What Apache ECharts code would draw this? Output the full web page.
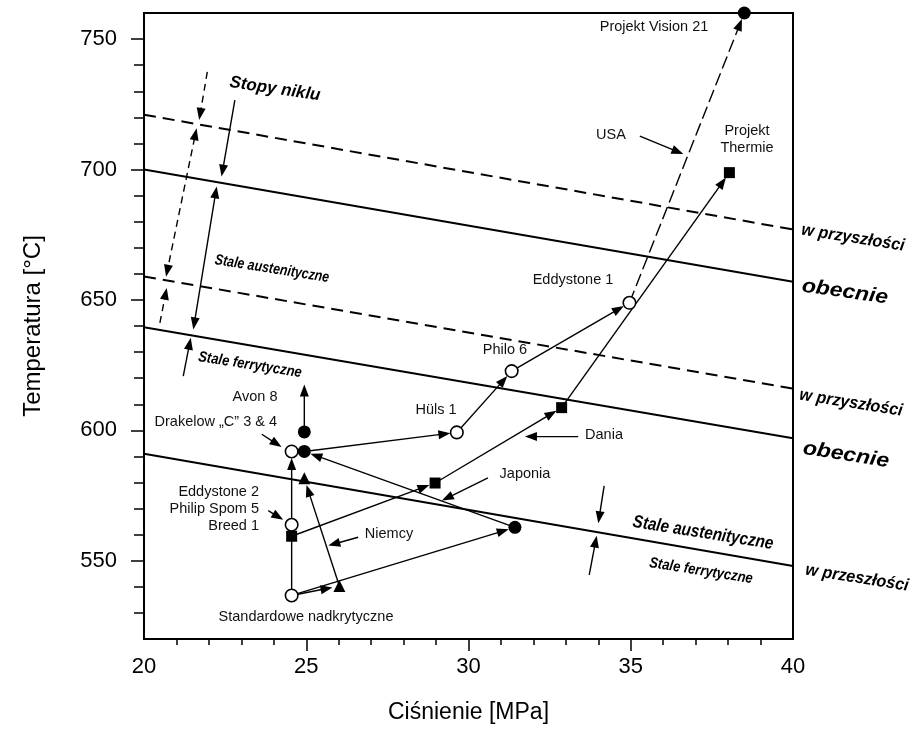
<!DOCTYPE html>
<html><head><meta charset="utf-8">
<script src="https://cdn.jsdelivr.net/npm/echarts@6/dist/echarts.min.js"></script>
<style>html,body{margin:0;padding:0;background:#fff}#c{width:915px;height:729px}</style>
</head><body><div id="c"></div><script>
// ---- axis ticks / labels ----
const xLabelValues = [20, 25, 30, 35, 40];
const xMajorTicks = [25, 30, 35];
const xMinorTicks = [21,22,23,24,26,27,28,29,31,32,33,34,36,37,38,39];
const yLabelValues = [550, 600, 650, 700, 750];
const yMinorTicks = [530,540,560,570,580,590,610,620,630,640,660,670,680,690,710,720,730,740];

// ---- boundary lines (pressure MPa, temperature °C) ----
const nickelFuture = [[20, 721], [40, 677]];
const nickelNow    = [[20, 700], [40, 657]];
const austFuture   = [[20, 659], [40, 616]];
const austNow      = [[20, 639.5], [40, 597]];
const ferrPast     = [[20, 591], [40, 548]];

// ---- plant points ----
const openCircles   = [[24.55, 536.7], [24.55, 563.8], [24.55, 591.9], [29.64, 599.2], [31.33, 622.7], [34.96, 648.9]];
const filledCircles = [[24.94, 599.4], [24.94, 591.9], [31.43, 562.8], [38.5, 760]];
const filledSquares = [[24.55, 559.4], [28.97, 579.8], [32.87, 608.7], [38.04, 698.8]];
const filledTriangles = [[24.94, 581.6], [26.02, 540.3]];

// ---- development paths [x1, y1, x2, y2] ----
const pathArrows = [
  [24.55, 536.7, 24.55, 591.9],
  [24.55, 536.7, 26.02, 540.3],
  [24.55, 536.7, 31.43, 562.8],
  [26.02, 540.3, 24.94, 581.6],
  [31.43, 562.8, 24.94, 591.9],
  [24.94, 591.9, 29.64, 599.2],
  [29.64, 599.2, 31.33, 622.7],
  [31.33, 622.7, 34.96, 648.9],
  [24.55, 559.4, 28.97, 579.8],
  [28.97, 579.8, 32.87, 608.7],
  [32.87, 608.7, 38.04, 698.8],
  [24.94, 599.4, 24.94, 617.6]
];
const dashedPathArrows = [[34.96, 648.9, 38.5, 760]];

// ---- pointer arrows ----
const pointerArrows = [
  [23.63, 598.5, 24.24, 593.6],
  [23.83, 569.2, 24.29, 565.7],
  [26.60, 559.0, 25.68, 555.8],
  [30.60, 581.8, 29.18, 573.1],
  [33.38, 597.6, 31.74, 597.6],
  [35.28, 712.8, 36.62, 705.9],
  [34.18, 578.7, 34.00, 564.4],
  [33.72, 544.6, 33.95, 559.6],
  [22.80, 726.6, 22.39, 697.3],
  [21.21, 620.8, 21.44, 635.5]
];
const doubleArrows = [[22.24, 693.5, 21.52, 638.7]];
const dashedPointerArrows = [[21.95, 737.4, 21.70, 719.0], [20.49, 641.2, 20.70, 654.6]];
const dashedDoubleArrows = [[21.62, 715.8, 20.68, 658.9]];

// ---- annotation texts ----
const plainTexts = [
  ['Projekt Vision 21', 654, 27, 'center'],
  ['USA', 611, 135, 'center'],
  ['Projekt', 747, 131, 'center'],
  ['Thermie', 747, 148, 'center'],
  ['Eddystone 1', 573, 280, 'center'],
  ['Philo 6', 505, 350, 'center'],
  ['Hüls 1', 436, 410, 'center'],
  ['Dania', 604, 435, 'center'],
  ['Japonia', 525, 474, 'center'],
  ['Avon 8', 255, 397, 'center'],
  ['Drakelow \u201EC\u201D 3 & 4', 277, 422, 'right'],
  ['Eddystone 2', 259, 492, 'right'],
  ['Philip Spom 5', 259, 509, 'right'],
  ['Breed 1', 259, 526, 'right'],
  ['Niemcy', 389, 534, 'center'],
  ['Standardowe nadkrytyczne', 306, 617, 'center']
];
const boldTexts = [
  ['Stopy niklu', 275, 89, 17, -8.5, 1.0],
  ['Stale austenityczne', 272, 269, 15, -9, 0.83],
  ['Stale ferrytyczne', 250, 365, 15, -9, 0.87],
  ['w przyszłości', 853, 238, 17, -9, 0.95],
  ['obecnie', 845, 292, 20, -8, 1.15],
  ['w przyszłości', 851, 403, 17, -9, 0.95],
  ['obecnie', 846, 455, 20, -9, 1.15],
  ['Stale austenityczne', 703, 533, 18, -9, 0.85],
  ['Stale ferrytyczne', 701, 571, 15, -9, 0.87],
  ['w przeszłości', 857, 578, 17, -9, 0.95]
];

const FONT = 'Liberation Sans, Arial, sans-serif';
const HEAD_L = 12, HEAD_W = 4.5;

function markerGap(x, y) {
  const near = (arr) => arr.some(p => Math.abs(p[0] - x) < 1e-6 && Math.abs(p[1] - y) < 1e-6);
  if (near(openCircles) || near(filledCircles)) return 6.5;
  if (near(filledSquares)) return 6;
  if (near(filledTriangles)) return 7;
  return 0;
}

function headShape(tip, ux, uy) {
  const bx = tip[0] - ux * HEAD_L, by = tip[1] - uy * HEAD_L;
  const px = -uy, py = ux;
  return { type: 'polygon', shape: { points: [tip, [bx + px * HEAD_W, by + py * HEAD_W], [bx - px * HEAD_W, by - py * HEAD_W]] },
           style: { fill: '#000' } };
}

function arrowSeries(data, dash, both) {
  return {
    type: 'custom', coordinateSystem: 'cartesian2d', clip: false, silent: true, z: 3,
    encode: { x: [0, 2], y: [1, 3] },
    data: data,
    renderItem: function (params, api) {
      const v = [api.value(0), api.value(1), api.value(2), api.value(3)];
      const a = api.coord([v[0], v[1]]);
      const b = api.coord([v[2], v[3]]);
      const dx = b[0] - a[0], dy = b[1] - a[1];
      const len = Math.hypot(dx, dy) || 1;
      const ux = dx / len, uy = dy / len;
      const ge = markerGap(v[2], v[3]);
      const e = [b[0] - ux * ge, b[1] - uy * ge];
      const s = [a[0], a[1]];
      const children = [];
      children.push(headShape(e, ux, uy));
      let le = [e[0] - ux * HEAD_L * 0.8, e[1] - uy * HEAD_L * 0.8];
      let ls = s;
      if (both) {
        children.push(headShape(s, -ux, -uy));
        ls = [s[0] + ux * HEAD_L * 0.8, s[1] + uy * HEAD_L * 0.8];
      }
      children.push({ type: 'line', shape: { x1: ls[0], y1: ls[1], x2: le[0], y2: le[1] },
        style: { stroke: '#000', lineWidth: 1.4, lineDash: dash || null } });
      return { type: 'group', children: children };
    }
  };
}

function boundary(data, dashed) {
  return { type: 'line', data: data, symbol: 'none', silent: true, z: 2,
    lineStyle: { color: '#000', width: 2, type: dashed ? [12, 7] : 'solid' } };
}

const tickStyle = { color: '#000', width: 1.5 };

const graphics = [];
plainTexts.forEach(t => graphics.push({
  type: 'text', x: t[1], y: t[2], z: 100,
  style: { text: t[0], fontSize: 14.5, fontFamily: FONT, fill: '#111', align: t[3], verticalAlign: 'middle' }
}));
boldTexts.forEach(t => graphics.push({
  type: 'text', x: t[1], y: t[2], z: 100, rotation: t[4] * Math.PI / 180, scaleX: t[5],
  style: { text: t[0], fontSize: t[3], fontWeight: 'bold', fontStyle: 'italic', fontFamily: FONT, fill: '#000', align: 'center', verticalAlign: 'middle' }
}));

const chart = echarts.init(document.getElementById('c'), null, { renderer: 'canvas' });
chart.setOption({
  animation: false,
  backgroundColor: '#fff',
  grid: { left: 144, right: 122, top: 13, bottom: 90, show: true, borderColor: '#000', borderWidth: 2, backgroundColor: 'transparent' },
  xAxis: [
    { type: 'value', min: 20, max: 40, position: 'bottom',
      axisLine: { show: true, lineStyle: { color: '#000', width: 2 } },
      axisTick: { show: true, length: 12, customValues: xMajorTicks, lineStyle: tickStyle },
      axisLabel: { customValues: xLabelValues, fontSize: 22, fontFamily: FONT, color: '#000', margin: 17 },
      splitLine: { show: false },
      name: 'Ciśnienie [MPa]', nameLocation: 'middle', nameGap: 62,
      nameTextStyle: { fontSize: 23, fontFamily: FONT, color: '#000' } },
    { type: 'value', min: 20, max: 40, position: 'bottom',
      axisLine: { show: false },
      axisTick: { show: true, length: 6, customValues: xMinorTicks, lineStyle: tickStyle },
      axisLabel: { show: false }, splitLine: { show: false } }
  ],
  yAxis: [
    { type: 'value', min: 520, max: 760, position: 'left',
      axisLine: { show: true, lineStyle: { color: '#000', width: 2 } },
      axisTick: { show: true, length: 13, customValues: yLabelValues, lineStyle: tickStyle },
      axisLabel: { customValues: yLabelValues, fontSize: 22, fontFamily: FONT, color: '#000', margin: 27 },
      splitLine: { show: false },
      name: 'Temperatura [°C]', nameLocation: 'middle', nameGap: 99, nameRotate: 90,
      nameTextStyle: { fontSize: 24, fontFamily: FONT, color: '#000' } },
    { type: 'value', min: 520, max: 760, position: 'left',
      axisLine: { show: false },
      axisTick: { show: true, length: 10, customValues: yMinorTicks, lineStyle: tickStyle },
      axisLabel: { show: false }, splitLine: { show: false } }
  ],
  graphic: graphics,
  series: [
    boundary(nickelFuture, true),
    boundary(nickelNow, false),
    boundary(austFuture, true),
    boundary(austNow, false),
    boundary(ferrPast, false),
    arrowSeries(pathArrows, null, false),
    arrowSeries(dashedPathArrows, [13, 5], false),
    arrowSeries(pointerArrows, null, false),
    arrowSeries(doubleArrows, null, true),
    arrowSeries(dashedPointerArrows, [7, 5], false),
    arrowSeries(dashedDoubleArrows, [7, 5], true),
    { type: 'scatter', data: openCircles, symbol: 'circle', symbolSize: 12.5, z: 5, silent: true,
      itemStyle: { color: '#fff', borderColor: '#000', borderWidth: 1.6, opacity: 1 } },
    { type: 'scatter', data: filledCircles, symbol: 'circle', symbolSize: 13, z: 5, silent: true,
      itemStyle: { color: '#000', opacity: 1 } },
    { type: 'scatter', data: filledSquares, symbol: 'rect', symbolSize: 11, z: 5, silent: true,
      itemStyle: { color: '#000', opacity: 1 } },
    { type: 'scatter', data: filledTriangles, symbol: 'triangle', symbolSize: 12, z: 5, silent: true,
      itemStyle: { color: '#000', opacity: 1 } }
  ]
});
</script></body></html>
